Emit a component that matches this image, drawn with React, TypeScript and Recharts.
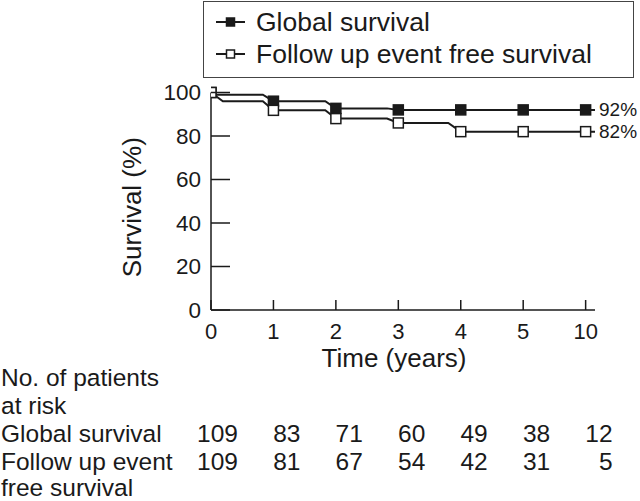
import React from 'react';
import { ComposedChart, Line, Scatter, XAxis, YAxis, Label, LabelList } from 'recharts';

// ---- data ----
const tickLabels = ['0', '1', '2', '3', '4', '5', '10'];
const tickIdx = [0, 1, 2, 3, 4, 5, 6];
const yTicks = [0, 20, 40, 60, 80, 100];

const seriesNames = ['Global survival', 'Follow up event free survival'];

// curve outline (x in tick-index units)
const globalCurveX = [0, 0.07, 0.83, 1, 1.83, 2, 2.82, 3, 6.15];
const globalCurveY = [100, 99, 99, 96, 96, 92.7, 92.7, 92, 92];
const efsCurveX = [0, 0.19, 0.83, 1, 1.83, 2, 2.82, 3, 3.8, 4, 6.15];
const efsCurveY = [100, 96, 96, 91.8, 91.8, 88, 88, 86, 86, 82, 82];

// markers at each time point
const globalMarkers = [100, 96, 92.7, 92, 92, 92, 92];
const efsMarkers = [100, 91.8, 88, 86, 82, 82, 82];

// numbers at risk
const riskGlobal = [109, 83, 71, 60, 49, 38, 12];
const riskEfs = [109, 81, 67, 54, 42, 31, 5];
const riskHeader = ['No. of patients', 'at risk'];
const riskRowLabels = [['Global survival'], ['Follow up event', 'free survival']];

const globalCurve = globalCurveX.map((x, i) => ({ x, y: globalCurveY[i] }));
const efsCurve = efsCurveX.map((x, i) => ({ x, y: efsCurveY[i] }));
const globalPts = tickIdx.map((x, i) => ({ x, y: globalMarkers[i] }));
const efsPts = tickIdx.map((x, i) => ({ x, y: efsMarkers[i] }));

const FONT = '"Liberation Sans", Arial, Helvetica, sans-serif';
const INK = '#1a1a1a';
const TABLE_FS = 24.5;

const square = (filled: boolean, size: number) => (props: any) => {
  const { cx, cy } = props;
  if (cx == null || cy == null) return null;
  return (
    <rect
      x={cx - size / 2}
      y={cy - size / 2}
      width={size}
      height={size}
      fill={filled ? INK : '#fff'}
      stroke={INK}
      strokeWidth={1.5}
    />
  );
};

const XTick = (props: any) => {
  const { x, y, payload } = props;
  const i = Number(payload.value);
  return (
    <g fontFamily={FONT} fill={INK}>
      <line x1={x} y1={y} x2={x} y2={y - 10} stroke={INK} strokeWidth={1.5} />
      <text x={x} y={y + 21} textAnchor="middle" dominantBaseline="central" fontSize={22} fill={INK}>
        {tickLabels[i]}
      </text>
      <text x={x + 27} y={y + 123} textAnchor="end" dominantBaseline="central" fontSize={TABLE_FS} fill={INK}>
        {riskGlobal[i]}
      </text>
      <text x={x + 27} y={y + 151} textAnchor="end" dominantBaseline="central" fontSize={TABLE_FS} fill={INK}>
        {riskEfs[i]}
      </text>
      {i === 0 && (
        <g>
          {riskHeader.map((t, k) => (
            <text key={t} x={1} y={y + 67 + k * 28} dominantBaseline="central" fontSize={TABLE_FS} fill={INK}>
              {t}
            </text>
          ))}
          {riskRowLabels[0].map((t, k) => (
            <text key={t} x={1} y={y + 123 + k * 27} dominantBaseline="central" fontSize={TABLE_FS} fill={INK}>
              {t}
            </text>
          ))}
          {riskRowLabels[1].map((t, k) => (
            <text key={t} x={1} y={y + 151 + k * 26} dominantBaseline="central" fontSize={TABLE_FS} fill={INK}>
              {t}
            </text>
          ))}
        </g>
      )}
    </g>
  );
};

const YTick = (props: any) => {
  const { x, y, payload } = props;
  return (
    <g>
      <line x1={x} y1={y} x2={x + 19} y2={y} stroke={INK} strokeWidth={1.5} />
      <text x={x - 10} y={y} textAnchor="end" dominantBaseline="central" fontSize={22.5} fontFamily={FONT} fill={INK}>
        {payload.value}
      </text>
    </g>
  );
};

const endLabel = (count: number) => (props: any) => {
  const { x, y, index, value } = props;
  if (index !== count - 1) return null;
  return (
    <text x={x + 4} y={y} dominantBaseline="central" fontSize={19} fontFamily={FONT} fill={INK}>
      {`${Math.round(value)}%`}
    </text>
  );
};

const LegendBox = () => (
  <div
    style={{
      position: 'absolute',
      left: 203,
      top: 1,
      width: 431,
      height: 77,
      border: '1.5px solid #444',
      boxSizing: 'border-box',
      fontFamily: FONT,
      fontSize: 26.5,
      color: INK,
    }}
  >
    {seriesNames.map((name, k) => (
      <div
        key={name}
        style={{ position: 'absolute', left: 0, top: k === 0 ? 4 : 36, height: 32, display: 'flex', alignItems: 'center' }}
      >
        <svg width={52} height={32} style={{ display: 'block' }}>
          <line x1={12} y1={16} x2={41} y2={16} stroke={INK} strokeWidth={2} />
          <rect x={22.5} y={12} width={8} height={8} fill={k === 0 ? INK : '#fff'} stroke={INK} strokeWidth={1.5} />
        </svg>
        <span style={{ whiteSpace: 'nowrap', lineHeight: '32px' }}>{name}</span>
      </div>
    ))}
  </div>
);

export default function App() {
  return (
    <div style={{ position: 'absolute', left: 0, top: 0, width: 640, height: 501, background: '#fff' }}>
      <ComposedChart width={640} height={501} margin={{ top: 92.5, right: 45, bottom: 0, left: 0 }}>
        <XAxis
          type="number"
          dataKey="x"
          domain={[0, 6.15]}
          ticks={tickIdx}
          allowDataOverflow
          height={191}
          tickSize={0}
          tickMargin={0}
          tickLine={false}
          axisLine={{ stroke: INK, strokeWidth: 1.5 }}
          tick={<XTick />}
          interval={0}
        >
          <Label
            content={(p: any) => {
              const vb = p.viewBox || {};
              return (
                <text
                  x={vb.x + vb.width / 2 - 9}
                  y={vb.y + 48}
                  textAnchor="middle"
                  dominantBaseline="central"
                  fontSize={26}
                  fontFamily={FONT}
                  fill={INK}
                >
                  Time (years)
                </text>
              );
            }}
          />
        </XAxis>
        <YAxis
          type="number"
          dataKey="y"
          domain={[0, 100]}
          ticks={yTicks}
          width={211}
          tickSize={0}
          tickMargin={0}
          tickLine={false}
          axisLine={{ stroke: INK, strokeWidth: 1.5 }}
          tick={<YTick />}
          interval={0}
        >
          <Label
            content={(p: any) => {
              const vb = p.viewBox || {};
              const cx = vb.x + vb.width - 79;
              const cy = vb.y + vb.height / 2 + 6;
              return (
                <text
                  x={cx}
                  y={cy}
                  transform={`rotate(-90 ${cx} ${cy})`}
                  textAnchor="middle"
                  dominantBaseline="central"
                  fontSize={26}
                  fontFamily={FONT}
                  fill={INK}
                >
                  Survival (%)
                </text>
              );
            }}
          />
        </YAxis>
        <Line
          data={globalCurve}
          dataKey="y"
          type="linear"
          stroke={INK}
          strokeWidth={2}
          dot={false}
          activeDot={false}
          isAnimationActive={false}
          name={seriesNames[0]}
        >
          <LabelList dataKey="y" content={endLabel(globalCurve.length)} />
        </Line>
        <Line
          data={efsCurve}
          dataKey="y"
          type="linear"
          stroke={INK}
          strokeWidth={2}
          dot={false}
          activeDot={false}
          isAnimationActive={false}
          name={seriesNames[1]}
        >
          <LabelList dataKey="y" content={endLabel(efsCurve.length)} />
        </Line>
        <Scatter data={globalPts} dataKey="y" shape={square(true, 10)} isAnimationActive={false} />
        <Scatter data={efsPts} dataKey="y" shape={square(false, 10)} isAnimationActive={false} />
      </ComposedChart>
      <LegendBox />
    </div>
  );
}
